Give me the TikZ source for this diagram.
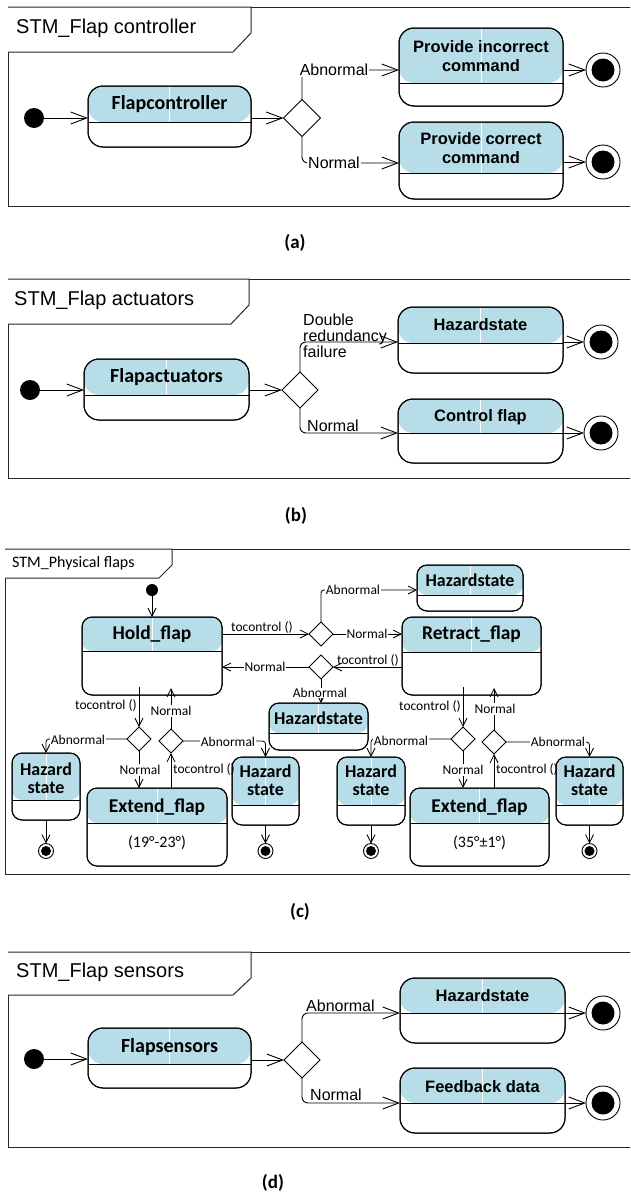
\documentclass[tikz,border=0pt]{standalone}
\usepackage{fontspec}
\setmainfont{Liberation Sans}
\newfontfamily\calib{Carlito}
\usetikzlibrary{arrows.meta,shapes.geometric}
\definecolor{hdrblue}{RGB}{183,221,232}

\tikzset{
  frame/.style={line width=1pt, draw=black!85},
  statebox/.style={draw, line width=1pt, fill=white, inner sep=0pt, outer sep=0pt, anchor=north west},
  hdr/.style={fill=hdrblue},
  dec/.style={diamond, draw, line width=0.9pt, fill=white, inner sep=0pt, outer sep=0pt,
              minimum width=#1, minimum height=#1},
  init/.style={circle, fill=black, inner sep=0pt, outer sep=0pt, minimum size=#1},
  final/.style 2 args={circle, draw, line width=0.9pt, fill=white, inner sep=0pt, outer sep=0pt,
              minimum size=#1, path picture={\fill[black] (path picture bounding box.center) circle (#2);}},
  tr/.style={line width=0.9pt, -{Straight Barb[length=16pt,width=12pt]}},
  trc/.style={line width=0.8pt, -{Straight Barb[length=8pt,width=8pt]}},
  ttl/.style={anchor=west, inner sep=0pt, font=\fontsize{20}{24}\selectfont},
  stb/.style={inner sep=0pt, font=\calib\bfseries\fontsize{20}{24}\selectfont},
  sta/.style={inner sep=0pt, align=center, font=\bfseries\fontsize{16.5}{18.5}\selectfont},
  lbl/.style={inner sep=1pt, font=\fontsize{16}{16}\selectfont},
  cttl/.style={anchor=west, inner sep=0pt, font=\calib\fontsize{16}{19}\selectfont},
  cst/.style={inner sep=0pt, font=\calib\bfseries\fontsize{19.5}{22}\selectfont},
  chz/.style={inner sep=0pt, align=center, font=\calib\bfseries\fontsize{18}{18}\selectfont},
  cnote/.style={inner sep=0pt, font=\calib\fontsize{16}{19}\selectfont},
  clb/.style={inner sep=0.8pt, font=\calib\fontsize{13.5}{15}\selectfont},
  captext/.style={inner sep=0pt, font=\calib\bfseries\fontsize{19}{22}\selectfont},
}

% state with a blue header compartment:
% #1 corner radius, #2 name, #3 left, #4 top, #5 right, #6 bottom, #7 header height
\newcommand\mkst[7]{%
  \pgfmathsetmacro\stw{#5-#3}%
  \pgfmathsetmacro\sth{#6-#4}%
  \node[statebox, rounded corners=#1, minimum width=\stw pt, minimum height=\sth pt,
        path picture={%
          \fill[hdr] (path picture bounding box.north west) rectangle ([yshift=-#7pt]path picture bounding box.north east);
          \draw[line width=1pt] ([yshift=-#7pt]path picture bounding box.north west) -- ([yshift=-#7pt]path picture bounding box.north east);
          \draw[white, line width=0.5pt] (path picture bounding box.north) -- ([yshift=-#7pt]path picture bounding box.north);
        }] (#2) at (#3,#4) {};%
  \draw[line width=1pt, rounded corners=#1] (#2.north west) rectangle (#2.south east);%
}

\begin{document}
\begin{tikzpicture}[x=1pt, y=-1pt]
\useasboundingbox (0,0) rectangle (630,1194);
\clip (0,0) rectangle (630,1194);

% ================= (a) Flap controller =================
\draw[frame] (8,7) rectangle (640,206);
\draw[frame, fill=white] (8,7) -- (251,7) -- (251,33) -- (233,52) -- (8,52);
\node[ttl] (ta) at (16,28) {STM\_Flap controller};
\node[init=20pt] (a0) at (34,118) {};
\mkst{15pt}{a1}{88}{86}{251}{147}{36}
\node[stb] (a1t) at (169.5,104) {Flapcontroller};
\node[dec=37pt] (ad) at (302,118) {};
\mkst{15pt}{a2}{399}{28}{563}{106}{55}
\node[sta] (a2t) at (481,56) {Provide incorrect\\command};
\mkst{15pt}{a3}{399}{122}{563}{199}{51}
\node[sta] (a3t) at (481,148) {Provide correct\\command};
\node[final={34pt}{11.5pt}] (a2f) at (603,70) {};
\node[final={34pt}{11.5pt}] (a3f) at (603,162) {};
\draw[tr] (a0) -- (a1.west |- a0);
\draw[tr] (a1.east |- ad) -- (ad.west);
\draw[tr, rounded corners=6pt] (ad.north) -- (ad.north |- 0,70) -- (a2.west |- 0,70);
\node[lbl, fill=white] (aab) at (334,70) {Abnormal};
\draw[tr, rounded corners=6pt] (ad.south) -- (ad.south |- 0,163) -- (a3.west |- 0,163);
\node[lbl, fill=white] (ano) at (334,163) {Normal};
\draw[tr] (a2.east |- a2f) -- (a2f.west);
\draw[tr] (a3.east |- a3f) -- (a3f.west);
\node[captext] (capa) at (295,243) {(a)};

% ================= (b) Flap actuators =================
\draw[frame] (8,279) rectangle (640,478);
\draw[frame, fill=white] (8,279) -- (249,279) -- (249,305) -- (231,324) -- (8,324);
\node[ttl] (tb) at (14,300) {STM\_Flap actuators};
\node[init=20pt] (b0) at (30,390) {};
\mkst{15pt}{b1}{84}{359}{249}{420}{36}
\node[stb] (b1t) at (166.5,377) {Flapactuators};
\node[dec=36pt] (bd) at (300,390) {};
\mkst{15pt}{b2}{398}{307}{563}{373}{36}
\node[sta] (b2t) at (480.5,325) {Hazardstate};
\mkst{15pt}{b3}{398}{399}{563}{463}{34}
\node[sta] (b3t) at (480.5,417) {Control flap};
\node[final={34pt}{11.5pt}] (b2f) at (601,342) {};
\node[final={34pt}{11.5pt}] (b3f) at (601,433) {};
\draw[tr] (b0) -- (b1.west |- b0);
\draw[tr] (b1.east |- bd) -- (bd.west);
\draw[tr, rounded corners=6pt] (bd.north) -- (bd.north |- 0,342) -- (b2.west |- 0,342);
\node[lbl, inner sep=0pt, anchor=west, align=left] (bab) at (303,336) {Double\\redundancy\\failure};
\draw[tr, rounded corners=6pt] (bd.south) -- (bd.south |- 0,433) -- (b3.west |- 0,433);
\node[lbl, inner sep=0pt, anchor=base west] (bno) at (307,431) {Normal};
\draw[tr] (b2.east |- b2f) -- (b2f.west);
\draw[tr] (b3.east |- b3f) -- (b3f.west);
\node[captext] (capb) at (296,516) {(b)};

% ================= (c) Physical flaps =================
\draw[frame] (5,549) rectangle (640,874);
\draw[frame, fill=white] (5,549) -- (172,549) -- (172,565) -- (159,578) -- (5,578);
\node[cttl] (tc) at (12,563) {STM\_Physical flaps};
\node[init=12pt] (c0) at (152,590) {};

\mkst{10pt}{h}{82}{617}{222}{695}{34}
\node[cst] (ht) at (152,634) {Hold\_flap};
\mkst{10pt}{r}{402}{617}{541}{695}{35}
\node[cst] (rt) at (471.5,634) {Retract\_flap};
\mkst{10pt}{hz}{417}{565}{523}{611}{30}
\node[chz] (hzt) at (470,580) {Hazardstate};
\mkst{10pt}{hm}{269}{703}{368}{750}{30}
\node[chz] (hmt) at (318.5,718) {Hazardstate};

\mkst{10pt}{e1}{87}{788}{227}{866}{35}
\node[cst] (e1t) at (157,807) {Extend\_flap};
\node[cnote] (e1n) at (157,843) {(19°-23°)};
\mkst{10pt}{e2}{410}{788}{549}{866}{35}
\node[cst] (e2t) at (479.5,807) {Extend\_flap};
\node[cnote] (e2n) at (479.5,843) {(35°±1°)};

\mkst{10pt}{z1}{12}{753}{80}{820}{47}
\node[chz] (z1t) at (46,778) {Hazard\\state};
\mkst{10pt}{z2}{232}{757}{299}{825}{48}
\node[chz] (z2t) at (265.5,780) {Hazard\\state};
\mkst{10pt}{z3}{337}{757}{405}{825}{48}
\node[chz] (z3t) at (371,780) {Hazard\\state};
\mkst{10pt}{z4}{556}{757}{623}{825}{48}
\node[chz] (z4t) at (589.5,780) {Hazard\\state};

\node[final={15pt}{5pt}] (z1f) at (46,851) {};
\node[final={15pt}{5pt}] (z2f) at (265.5,851) {};
\node[final={15pt}{5pt}] (z3f) at (371,851) {};
\node[final={15pt}{5pt}] (z4f) at (589.5,851) {};

\node[dec=24pt] (c1) at (321,634) {};
\node[dec=24pt] (c2) at (321,667) {};
\node[dec=24pt] (c3) at (139,739) {};
\node[dec=24pt] (c4) at (171,741) {};
\node[dec=24pt] (c5) at (463,739) {};
\node[dec=24pt] (c6) at (494,742) {};

\coordinate (ho) at (139,687);
\coordinate (hi) at (171,688);
\coordinate (ro) at (463,687);
\coordinate (ri) at (494,688);

% initial and upper row
\draw[trc] (c0) -- (h.north);
\draw[trc] (h.east |- c1) -- (c1.west);
\node[clb] (l1) at (262,627) {tocontrol ()};
\draw[trc, rounded corners=3pt] (c1.north) -- (c1.north |- 0,590) -- (hz.west |- 0,590);
\node[clb, fill=white] (l2) at (353,590) {Abnormal};
\draw[trc] (c1.east) -- (r.west |- c1);
\node[clb, fill=white] (l3) at (367,634) {Normal};
\draw[trc] (r.west |- c2) -- (c2.east);
\node[clb] (l4) at (368,660) {tocontrol ()};
\draw[trc] (c2.west) -- (h.east |- c2);
\node[clb, fill=white] (l5) at (265,667) {Normal};
\draw[trc] (c2.south) -- (c2.south |- hm.north);
\node[clb, fill=white, inner sep=0.3pt] (l6) at (320,693) {Abnormal};

% below Hold_flap
\draw[trc] (ho) -- (c3.north);
\node[clb, anchor=east, inner sep=0pt] (l7) at (137,705) {tocontrol ()};
\draw[trc] (c4.north) -- (hi);
\node[clb, fill=white] (l8) at (171,711) {Normal};
\draw[trc, rounded corners=3pt] (c3.west) -- (z1.north |- c3.west) -- (z1.north);
\node[clb, fill=white] (l9) at (78,740) {Abnormal};
\draw[trc] (c3.south) -- (c3.south |- e1.north);
\node[clb, fill=white] (l10) at (140,770) {Normal};
\draw[trc] (e1.north -| c4) -- (c4.south);
\node[clb, anchor=west, inner sep=0pt] (l11) at (173,769) {tocontrol ()};
\draw[trc, rounded corners=3pt] (c4.east) -- (z2.north |- c4.east) -- (z2.north);
\node[clb, fill=white] (l12) at (228,742) {Abnormal};

% below Retract_flap
\draw[trc] (ro) -- (c5.north);
\node[clb, anchor=east, inner sep=0pt] (l13) at (461,706) {tocontrol ()};
\draw[trc] (c6.north) -- (ri);
\node[clb, fill=white] (l14) at (495,709) {Normal};
\draw[trc, rounded corners=3pt] (c5.west) -- (z3.north |- c5.west) -- (z3.north);
\node[clb, fill=white] (l15) at (401,741) {Abnormal};
\draw[trc] (c5.south) -- (c5.south |- e2.north);
\node[clb, fill=white] (l16) at (463,770) {Normal};
\draw[trc] (e2.north -| c6) -- (c6.south);
\node[clb, anchor=west, inner sep=0pt] (l17) at (496,769) {tocontrol ()};
\draw[trc, rounded corners=3pt] (c6.east) -- (z4.north |- c6.east) -- (z4.north);
\node[clb, fill=white] (l18) at (558,742) {Abnormal};

% to final states
\draw[trc] (z1.south) -- (z1f.north);
\draw[trc] (z2.south) -- (z2f.north);
\draw[trc] (z3.south) -- (z3f.north);
\draw[trc] (z4.south) -- (z4f.north);
\node[captext] (capc) at (300,912) {(c)};

% ================= (d) Flap sensors =================
\draw[frame] (8,952) rectangle (640,1147);
\draw[frame, fill=white] (8,952) -- (251,952) -- (251,978) -- (233,995) -- (8,995);
\node[ttl] (td) at (16,972) {STM\_Flap sensors};
\node[init=20pt] (d0) at (34,1059) {};
\mkst{15pt}{d1}{88}{1028}{251}{1088}{36}
\node[stb] (d1t) at (169.5,1047) {Flapsensors};
\node[dec=36pt] (dd) at (302,1060) {};
\mkst{15pt}{d2}{400}{978}{565}{1043}{35}
\node[sta] (d2t) at (482.5,996) {Hazardstate};
\mkst{15pt}{d3}{400}{1068}{565}{1133}{35}
\node[sta] (d3t) at (482.5,1087) {Feedback data};
\node[final={34pt}{11.5pt}] (d2f) at (603,1013) {};
\node[final={34pt}{11.5pt}] (d3f) at (603,1103) {};
\draw[tr] (d0) -- (d1.west |- d0);
\draw[tr] (d1.east |- dd) -- (dd.west);
\draw[tr, rounded corners=6pt] (dd.north) -- (dd.north |- 0,1013) -- (d2.west |- 0,1013);
\node[lbl, inner sep=0pt, anchor=base west] (dab) at (306,1011) {Abnormal};
\draw[tr, rounded corners=6pt] (dd.south) -- (dd.south |- 0,1103) -- (d3.west |- 0,1103);
\node[lbl, inner sep=0pt, anchor=base west] (dno) at (310,1100) {Normal};
\draw[tr] (d2.east |- d2f) -- (d2f.west);
\draw[tr] (d3.east |- d3f) -- (d3f.west);
\node[captext] (capd) at (273,1183) {(d)};
\end{tikzpicture}
\end{document}
